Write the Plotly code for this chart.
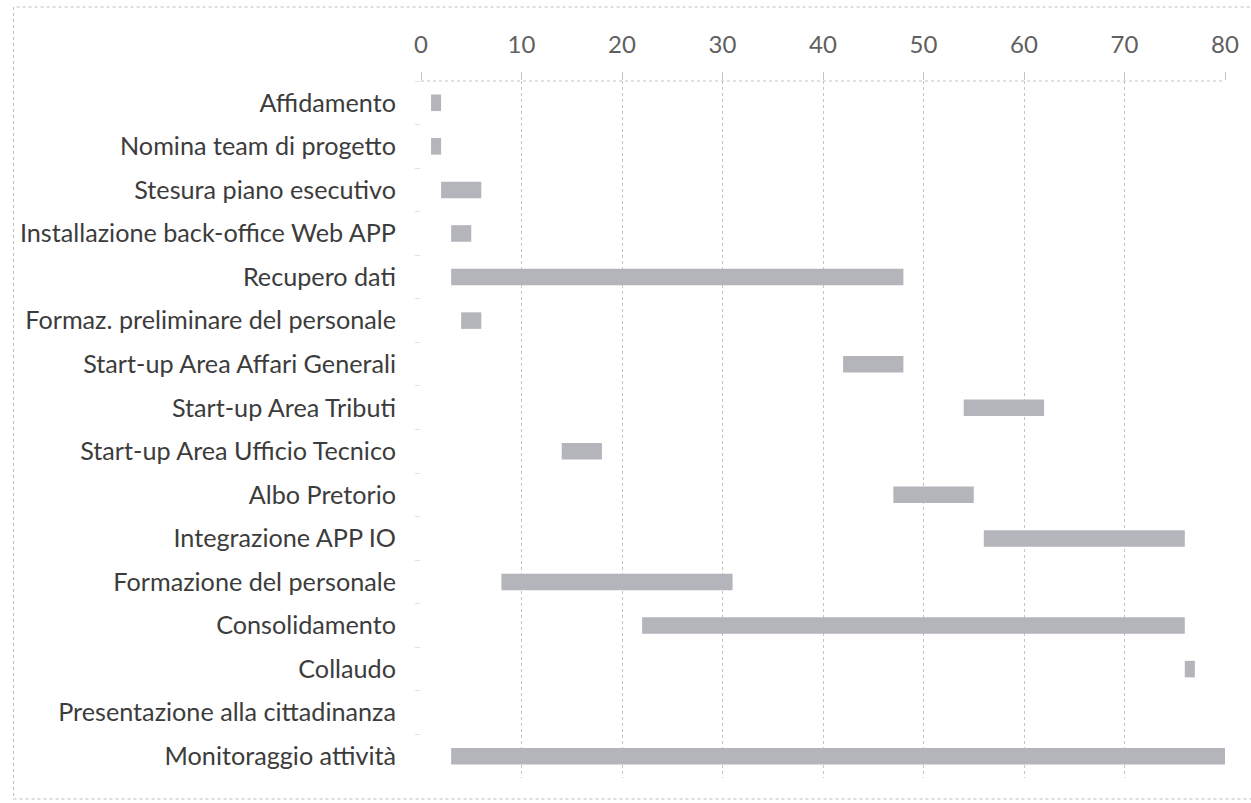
import plotly.graph_objects as go

# Project phases (top to bottom), start week and duration in weeks
tasks = [
    "Affidamento",
    "Nomina team di progetto",
    "Stesura piano esecutivo",
    "Installazione back-office Web APP",
    "Recupero dati",
    "Formaz. preliminare del personale",
    "Start-up Area Affari Generali",
    "Start-up Area Tributi",
    "Start-up Area Ufficio Tecnico",
    "Albo Pretorio",
    "Integrazione APP IO",
    "Formazione del personale",
    "Consolidamento",
    "Collaudo",
    "Presentazione alla cittadinanza",
    "Monitoraggio attività",
]
start = [1, 1, 2, 3, 3, 4, 42, 54, 14, 47, 56, 8, 22, 76, None, 3]
duration = [1, 1, 4, 2, 45, 2, 6, 8, 4, 8, 20, 23, 54, 1, None, 77]

x_ticks = [0, 10, 20, 30, 40, 50, 60, 70, 80]

W, H = 1251, 803
M_L, M_R, M_T, M_B = 421, 17, 81, 25
GRID = "#c4c4c4"

fig = go.Figure(
    go.Bar(
        y=tasks,
        x=duration,
        base=start,
        orientation="h",
        width=0.38,
        marker=dict(color="#b3b5bb", line=dict(width=0)),
        hoverinfo="skip",
    )
)

fig.update_layout(
    width=W,
    height=H,
    margin=dict(l=M_L, r=M_R, t=M_T, b=M_B),
    paper_bgcolor="white",
    plot_bgcolor="white",
    showlegend=False,
    font=dict(family="Lato, 'Open Sans', sans-serif", color="#404040"),
    xaxis=dict(
        side="top",
        range=[0, 80],
        tickvals=x_ticks,
        showgrid=True,
        gridcolor=GRID,
        griddash="dot",
        gridwidth=1,
        zeroline=False,
        showline=False,
        ticks="outside",
        ticklen=8,
        tickcolor=GRID,
        tickfont=dict(size=24, color="#606060", family="Lato, sans-serif"),
        ticklabelstandoff=9,
        fixedrange=True,
    ),
    yaxis=dict(
        autorange="reversed",
        categoryorder="array",
        categoryarray=tasks,
        showgrid=False,
        zeroline=False,
        showline=False,
        ticks="outside",
        tickson="boundaries",
        ticklen=5,
        tickcolor="#e0e0e0",
        tickfont=dict(size=25.2, color="#3c3c3c"),
        ticklabelstandoff=24,
        fixedrange=True,
    ),
    bargap=0.6,
)

pw = W - M_L - M_R
ph = H - M_T - M_B

# Dotted top axis line of the plot area
fig.add_shape(
    type="line",
    xref="paper",
    yref="paper",
    x0=0,
    x1=1,
    y0=1,
    y1=1,
    line=dict(color=GRID, width=1, dash="dot"),
    layer="below",
)

# Dotted frame around the whole chart area
fig.add_shape(
    type="rect",
    xref="paper",
    yref="paper",
    x0=(9 - M_L) / pw,
    x1=(W + 20 - M_L) / pw,
    y0=-(799 - (H - M_B)) / ph,
    y1=1 + (M_T - 7) / ph,
    line=dict(color="#bcbcbc", width=1, dash="dot"),
    fillcolor="rgba(0,0,0,0)",
    layer="below",
)

fig.write_html("out.html", config={"displayModeBar": False})
